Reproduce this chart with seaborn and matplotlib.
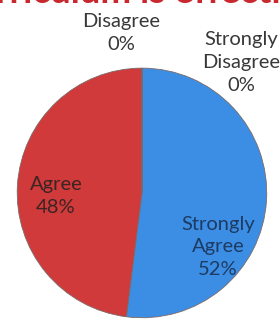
import matplotlib
matplotlib.use("Agg")
import matplotlib.pyplot as plt
import seaborn as sns

# survey responses
responses = ['Strongly Agree', 'Agree', 'Disagree', 'Strongly Disagree']
percents = [52, 48, 0, 0]
slice_colors = ['#3c8ee4', '#d03a3a', '#8a8a8a', '#6a6a6a']
title_text = 'Curriculum is effective'

sns.set_theme(style='white')
plt.rcParams['font.family'] = ['Lato', 'DejaVu Sans']

fig = plt.figure(figsize=(2.8, 3.27), dpi=100)
ax = fig.add_axes([0.057, 0.0245, 0.9, 0.771])
ax.pie(percents, colors=slice_colors, startangle=90, counterclock=False,
       wedgeprops=dict(linewidth=0.6, edgecolor='#7a6a6a'))
ax.set_xlim(-1.01, 1.01)
ax.set_ylim(-1.01, 1.01)
ax.set_aspect('auto')
ax.axis('off')

# label placement (figure fractions) and text colours
label_pos = {
    'Strongly Agree': (0.778, 0.245),
    'Agree': (0.2, 0.40),
    'Disagree': (0.432, 0.899),
    'Strongly Disagree': (0.862, 0.81),
}
label_color = {
    'Strongly Agree': '#1d3b63',
    'Agree': '#3b2424',
    'Disagree': '#383838',
    'Strongly Disagree': '#383838',
}
for name, pct in zip(responses, percents):
    txt = name.replace(' ', '\n') + '\n' + f'{pct}%'
    x, y = label_pos[name]
    fig.text(x, y, txt, ha='center', va='center', fontsize=14.5,
             color=label_color[name], linespacing=1.42)

# title sits mostly above the crop, only its lower part shows
fig.text(0.485, 0.99, title_text, ha='center', va='baseline', fontsize=26.5,
         fontweight='bold', color='#c8282e')

fig.savefig('out.png', dpi=100)
